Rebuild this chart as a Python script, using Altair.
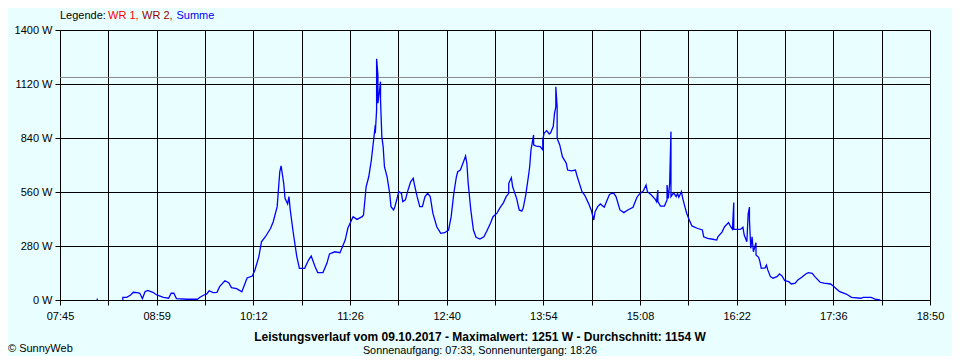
import altair as alt
import pandas as pd

# ---- data ----
TIMES = [
    "08:33", "08:33", "08:36", "08:39", "08:41", "08:44", "08:46", "08:48", "08:50", "08:52",
    "08:56", "08:59", "09:04", "09:08", "09:10", "09:12", "09:14", "09:22", "09:30", "09:32",
    "09:35", "09:37", "09:39", "09:42", "09:45", "09:47", "09:51", "09:54", "09:56", "10:00",
    "10:04", "10:08", "10:12", "10:14", "10:17", "10:19", "10:22", "10:26", "10:28", "10:31",
    "10:33", "10:34", "10:36", "10:37", "10:39", "10:40", "10:41", "10:43", "10:46", "10:48",
    "10:52", "10:55", "10:57", "11:00", "11:02", "11:06", "11:09", "11:11", "11:15", "11:19",
    "11:23", "11:25", "11:29", "11:32", "11:36", "11:37", "11:39", "11:41", "11:43", "11:45",
    "11:46", "11:46", "11:47", "11:47", "11:48", "11:48", "11:49", "11:50", "11:50", "11:51",
    "11:52", "11:53", "11:55", "11:57", "11:58", "12:00", "12:01", "12:03", "12:04", "12:06",
    "12:07", "12:09", "12:11", "12:13", "12:15", "12:16", "12:18", "12:20", "12:22", "12:24",
    "12:26", "12:28", "12:30", "12:33", "12:36", "12:39", "12:42", "12:44", "12:46", "12:48",
    "12:49", "12:51", "12:52", "12:53", "12:55", "12:56", "12:57", "12:59", "13:01", "13:03",
    "13:06", "13:09", "13:11", "13:14", "13:16", "13:19", "13:21", "13:24", "13:26", "13:28",
    "13:28", "13:30", "13:31", "13:34", "13:36", "13:38", "13:39", "13:41", "13:43", "13:44",
    "13:45", "13:47", "13:47", "13:49", "13:52", "13:54", "13:54", "13:55", "13:57", "13:59",
    "14:00", "14:02", "14:03", "14:04", "14:04", "14:05", "14:05", "14:07", "14:09", "14:12",
    "14:13", "14:16", "14:19", "14:20", "14:22", "14:24", "14:26", "14:29", "14:31", "14:33",
    "14:34", "14:36", "14:38", "14:41", "14:43", "14:45", "14:48", "14:50", "14:53", "14:56",
    "14:59", "15:03", "15:06", "15:08", "15:11", "15:13", "15:14", "15:17", "15:20", "15:21",
    "15:22", "15:22", "15:24", "15:27", "15:29", "15:29", "15:30", "15:31", "15:32", "15:32",
    "15:34", "15:36", "15:37", "15:38", "15:40", "15:41", "15:43", "15:44", "15:46", "15:48",
    "15:52", "15:56", "15:57", "16:00", "16:04", "16:07", "16:08", "16:11", "16:13", "16:16",
    "16:18", "16:19", "16:20", "16:20", "16:22", "16:25", "16:27", "16:28", "16:30", "16:31",
    "16:32", "16:32", "16:33", "16:34", "16:35", "16:37", "16:37", "16:39", "16:40", "16:41",
    "16:44", "16:45", "16:46", "16:48", "16:50", "16:53", "16:55", "16:57", "16:59", "17:02",
    "17:04", "17:07", "17:09", "17:12", "17:15", "17:17", "17:20", "17:22", "17:26", "17:29",
    "17:34", "17:36", "17:39", "17:41", "17:46", "17:50", "17:57", "17:59", "18:05", "18:08",
    "18:12",
]
WATTS = [
    0, 14, 14, 26, 40, 38, 35, 7, 43, 50,
    40, 26, 14, 9, 35, 35, 7, 4, 4, 14,
    26, 30, 48, 38, 40, 69, 100, 90, 64, 59,
    43, 114, 124, 156, 225, 302, 328, 372, 406, 484,
    665, 696, 605, 527, 498, 536, 467, 363, 225, 164,
    164, 207, 228, 173, 142, 142, 190, 239, 250, 245,
    311, 372, 432, 418, 432, 441, 587, 639, 726, 847,
    907, 865, 985, 1251, 1167, 1020, 1072, 1132, 1037, 847,
    795, 691, 639, 553, 484, 467, 484, 536, 562, 553,
    510, 519, 570, 613, 631, 596, 536, 484, 484, 536,
    553, 536, 450, 380, 346, 349, 363, 432, 553, 639,
    665, 674, 691, 709, 747, 709, 605, 467, 363, 325,
    316, 328, 354, 398, 432, 450, 475, 505, 536, 553,
    605, 634, 587, 527, 467, 461, 475, 544, 639, 691,
    778, 856, 804, 798, 795, 778, 830, 864, 878, 861,
    867, 899, 968, 1002, 1106, 1002, 838, 804, 743, 709,
    674, 670, 674, 648, 605, 562, 544, 501, 467, 415,
    458, 484, 498, 481, 515, 547, 556, 536, 467, 453,
    467, 481, 533, 550, 567, 596, 562, 544, 522, 510,
    570, 510, 487, 487, 519, 596, 527, 605, 873, 536,
    556, 536, 553, 533, 562, 527, 475, 450, 415, 384,
    372, 363, 328, 320, 315, 311, 329, 352, 380, 401,
    376, 367, 506, 366, 366, 366, 377, 337, 302, 446,
    482, 415, 268, 328, 250, 297, 233, 221, 199, 164,
    167, 181, 156, 121, 113, 121, 135, 124, 100, 95,
    83, 87, 104, 118, 135, 142, 138, 121, 92, 87,
    83, 73, 55, 43, 31, 14, 9, 14, 14, 5,
    0,
]
DOT_TIMES = ["08:13", "08:14"]
DOT_WATTS = [4, 4]

AVERAGE_W = 1154
Y_TICKS = [0, 280, 560, 840, 1120, 1400]
X_LABELS = ["07:45", "08:59", "10:12", "11:26", "12:40", "13:54", "15:08", "16:22", "17:36", "18:50"]
X_START, X_END = "07:45", "18:50"

LEGEND_PARTS = [("Legende:", "#000000"), ("WR 1,", "#FF0000"), ("WR 2,", "#990000"), ("Summe", "#0000FF")]
TITLE = "Leistungsverlauf vom 09.10.2017 - Maximalwert: 1251 W - Durchschnitt: 1154 W"
SUBTITLE = "Sonnenaufgang: 07:33, Sonnenuntergang: 18:26"
COPYRIGHT = "© SunnyWeb"

FONT = "Liberation Sans"
BG = "#E9FFFF"


def to_min(s):
    h, m = s.split(":")
    return int(h) * 60 + int(m)


rows = [{"t": to_min(t), "w": w, "seg": "main", "i": i} for i, (t, w) in enumerate(zip(TIMES, WATTS))]
rows += [{"t": to_min(t), "w": w, "seg": "dot", "i": i} for i, (t, w) in enumerate(zip(DOT_TIMES, DOT_WATTS))]
df = pd.DataFrame(rows)

x0, x1 = to_min(X_START), to_min(X_END)
n_grid = 2 * (len(X_LABELS) - 1)
step = (x1 - x0) / n_grid
tick_vals = [x0 + k * step for k in range(n_grid + 1)]
label_arr = []
for k, lab in enumerate(X_LABELS):
    label_arr.append(lab)
    if k < len(X_LABELS) - 1:
        label_arr.append("")
label_expr = "[" + ",".join("'" + s + "'" for s in label_arr) + "][round((datum.value-%d)/%f)]" % (x0, step)

PW, PH = 870, 270

x_enc = alt.X(
    "t:Q",
    scale=alt.Scale(domain=[x0, x1], nice=False, zero=False),
    axis=alt.Axis(values=tick_vals, labelExpr=label_expr, title=None, grid=True,
                  labelPadding=5, labelFlush=False),
)
y_enc = alt.Y(
    "w:Q",
    scale=alt.Scale(domain=[0, 1400], nice=False),
    axis=alt.Axis(values=Y_TICKS, labelExpr="datum.value + ' W'", title=None, grid=True,
                  labelPadding=3),
)

line = alt.Chart(df).mark_line(color="#0000FF", strokeWidth=1.3, interpolate="linear").encode(
    x=x_enc, y=y_enc, detail="seg:N", order="i:Q"
)

avg = alt.Chart(pd.DataFrame({"w": [AVERAGE_W]})).mark_rule(color="#888888", strokeWidth=1).encode(
    y=alt.Y("w:Q", scale=alt.Scale(domain=[0, 1400], nice=False))
)

# legend texts (positions relative to plot origin)
legend_x = [0, 48, 82, 116.5]
legend_layers = []
for (txt, col), lx in zip(LEGEND_PARTS, legend_x):
    legend_layers.append(
        alt.Chart(pd.DataFrame({"a": [0]})).mark_text(
            align="left", baseline="middle", font=FONT, fontSize=11, color=col
        ).encode(text=alt.value(txt), x=alt.value(lx), y=alt.value(-14))
    )

title_t = alt.Chart(pd.DataFrame({"a": [0]})).mark_text(
    align="center", baseline="middle", font=FONT, fontSize=12, fontWeight="bold", color="#000000"
).encode(text=alt.value(TITLE), x=alt.value(420), y=alt.value(307))

sub_t = alt.Chart(pd.DataFrame({"a": [0]})).mark_text(
    align="center", baseline="middle", font=FONT, fontSize=10.8, color="#000000"
).encode(text=alt.value(SUBTITLE), x=alt.value(420), y=alt.value(321))

copy_t = alt.Chart(pd.DataFrame({"a": [0]})).mark_text(
    align="left", baseline="middle", font=FONT, fontSize=11, color="#000000"
).encode(text=alt.value(COPYRIGHT), x=alt.value(-52), y=alt.value(319))

chart = alt.layer(avg, line, *legend_layers, title_t, sub_t, copy_t).properties(
    width=PW, height=PH,
    autosize=alt.AutoSizeParams(type="none"),
    padding={"left": 52, "top": 22, "right": 22, "bottom": 56},
    background=BG,
).configure_view(stroke=None, fill=BG).configure_axis(
    domainColor="#000000", gridColor="#000000", gridOpacity=1, gridWidth=1,
    tickColor="#000000", tickSize=5, tickWidth=1, domainWidth=1,
    labelFont=FONT, labelFontSize=11, labelColor="#000000",
)

chart.save("out.html", embed_options={"renderer": "svg", "actions": False})
